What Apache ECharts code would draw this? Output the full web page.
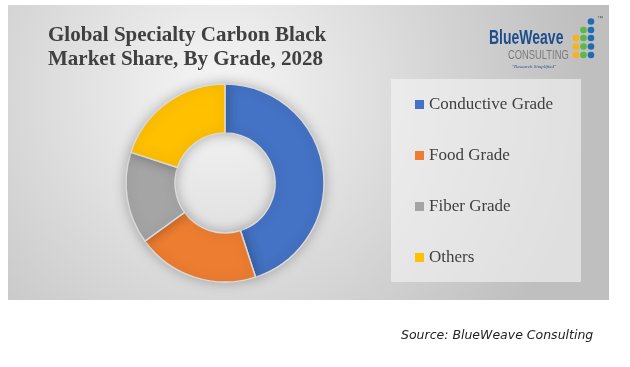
<!DOCTYPE html>
<html><head><meta charset="utf-8">
<script src="https://cdn.jsdelivr.net/npm/echarts@6/dist/echarts.min.js"></script>
<style>html,body{margin:0;padding:0;background:#fff}#c{width:630px;height:367px}</style>
</head><body><div id="c"></div>
<script>
const categories = ['Conductive Grade', 'Food Grade', 'Fiber Grade', 'Others'];
const shares = [45, 20, 15, 20];
const colors = ['#4472c4', '#ed7d31', '#a5a5a5', '#ffc000'];
const titleLines = ['Global Specialty Carbon Black', 'Market Share, By Grade, 2028'];
const sourceText = 'Source: BlueWeave Consulting';

const chart = echarts.init(document.getElementById('c'), null, {renderer: 'canvas'});

const dots = [];
const dotCols = [{x: 576, c: '#fbb216', rows: [38, 46.5, 55]}, {x: 583.5, c: '#5bb947', rows: [30, 38, 46.5, 55]}, {x: 591, c: '#1f6cb3', rows: [21.5, 30, 38, 46.5, 55]}];
dotCols.forEach(col => col.rows.forEach(y => dots.push({type: 'circle', shape: {cx: col.x, cy: y, r: 3.3}, style: {fill: col.c}, z: 3})));

chart.setOption({
  animation: false,
  color: colors,
  graphic: [
    {type: 'rect', shape: {x: 8, y: 5, width: 601, height: 295}, z: 0,
     style: {fill: {type: 'radial', x: 0.35, y: 0.3, r: 1.25, colorStops: [{offset: 0, color: '#f6f6f6'}, {offset: 1, color: '#bfbfbf'}]}}},
    {type: 'rect', shape: {x: 391, y: 79, width: 190, height: 203}, z: 1, style: {fill: 'rgba(245,245,245,0.6)'}},
    {type: 'text', x: 48, y: 36, z: 3, style: {text: titleLines[0], fill: '#404040', font: 'bold 21px "Liberation Serif", serif', textVerticalAlign: 'middle'}},
    {type: 'text', x: 48, y: 60, z: 3, style: {text: titleLines[1], fill: '#404040', font: 'bold 21px "Liberation Serif", serif', textVerticalAlign: 'middle'}},
    {type: 'text', x: 489, y: 38, scaleX: 0.7, z: 3, style: {text: 'BlueWeave', fill: '#1f4e8c', font: 'bold 20px "Liberation Sans", sans-serif', textVerticalAlign: 'middle'}},
    {type: 'text', x: 508, y: 55, scaleX: 0.72, z: 3, style: {text: 'CONSULTING', fill: '#7a7a7a', font: '13px "Liberation Sans", sans-serif', textVerticalAlign: 'middle'}},
    {type: 'text', x: 512, y: 67, z: 3, style: {text: '"Research Simplified"', fill: '#1f4e8c', font: 'italic 5px "Liberation Serif", serif', textVerticalAlign: 'middle'}},
    {type: 'text', x: 597, y: 18, z: 3, style: {text: '™', fill: '#555', font: '6px sans-serif', textVerticalAlign: 'middle'}},
    ...dots,
    {type: 'text', x: 401, y: 336, z: 3, style: {text: sourceText, fill: '#222', font: 'italic 12.5px "DejaVu Sans", sans-serif', textVerticalAlign: 'middle'}}
  ],
  legend: {
    orient: 'vertical', left: 410, top: 89, itemWidth: 9, itemHeight: 9, itemGap: 30, itemStyle: {borderWidth: 0},
    icon: 'rect',
    data: categories,
    textStyle: {fontFamily: '"Liberation Serif", serif', fontSize: 17, color: '#404040', lineHeight: 21}
  },
  series: [{
    type: 'pie', center: [225, 183], radius: [50, 99], startAngle: 90, clockwise: true,
    label: {show: false}, labelLine: {show: false}, silent: true,
    itemStyle: {borderColor: '#d9d9d9', borderWidth: 1.5, shadowBlur: 12, shadowColor: 'rgba(0,0,0,0.25)'},
    data: categories.map((n, i) => ({name: n, value: shares[i]}))
  }]
});
</script></body></html>
